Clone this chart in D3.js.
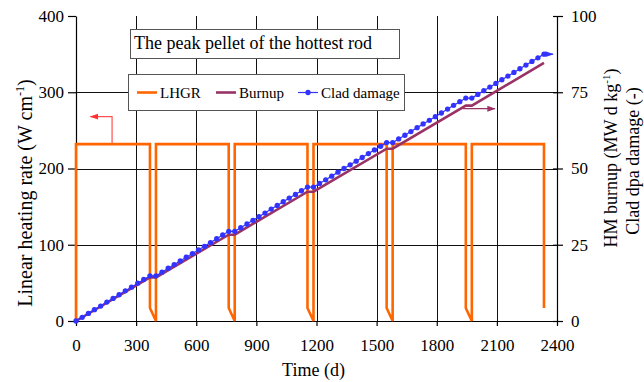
<!DOCTYPE html>
<html>
<head>
<meta charset="utf-8">
<script src="https://cdn.jsdelivr.net/npm/d3@7/dist/d3.min.js"></script>
<style>
  html, body { margin: 0; padding: 0; background: #fff; }
  svg { display: block; font-family: "Liberation Serif", "Times New Roman", serif; }
  svg text { font-family: "Liberation Serif", "Times New Roman", serif; }
</style>
</head>
<body>
<svg id="chart" width="644" height="382"></svg>
<script>
// Time axis ticks (d) and axis ranges
const timeTicks = [0, 300, 600, 900, 1200, 1500, 1800, 2100, 2400];
const lhgrTicks = [0, 100, 200, 300, 400];
const rightTicks = [0, 25, 50, 75, 100];

// Linear heating rate history (W/cm): full power cycles with shutdowns
const lhgrDays = [0, 0, 369, 369, 399, 399, 762, 762, 792, 792, 1155, 1155, 1185, 1185, 1550, 1550, 1580, 1580, 1945, 1945, 1975, 1975, 2335, 2335];
const lhgrValues = [0, 232, 232, 17, 0, 232, 232, 17, 0, 232, 232, 17, 0, 232, 232, 17, 0, 232, 232, 17, 0, 232, 232, 17];

// HM burnup (MW d/kg) at cycle boundaries
const burnupDays = [0, 369, 399, 762, 792, 1155, 1185, 1550, 1580, 1945, 1975, 2335];
const burnupValues = [0, 14.3, 14.3, 28.3, 28.3, 42.4, 42.4, 56.5, 56.5, 70.6, 70.6, 84.6];

// Clad dpa damage at each output step
const cladDays = [
  0, 31, 62, 92, 123, 154, 185, 215, 246, 277, 308, 338, 369,
  399, 429, 460, 490, 520, 550, 581, 611, 641, 671, 702, 732, 762,
  792, 822, 853, 883, 913, 943, 974, 1004, 1034, 1064, 1095, 1125, 1155,
  1185, 1215, 1246, 1276, 1307, 1337, 1368, 1398, 1428, 1459, 1489, 1520, 1550,
  1580, 1610, 1641, 1671, 1702, 1732, 1763, 1793, 1823, 1854, 1884, 1915, 1945,
  1975, 2005, 2035, 2065, 2095, 2125, 2155, 2185, 2215, 2245, 2275, 2305, 2335
];
const cladValues = [
  0, 1.2, 2.5, 3.7, 4.9, 6.2, 7.4, 8.6, 9.9, 11.1, 12.4, 13.6, 14.8,
  14.8, 16.0, 17.3, 18.5, 19.7, 20.9, 22.1, 23.3, 24.5, 25.7, 27.0, 28.2, 29.4,
  29.4, 30.6, 31.8, 33.0, 34.2, 35.4, 36.7, 37.9, 39.1, 40.3, 41.5, 42.7, 43.9,
  43.9, 45.1, 46.3, 47.5, 48.8, 50.0, 51.2, 52.4, 53.6, 54.9, 56.1, 57.3, 58.5,
  58.5, 59.7, 60.9, 62.1, 63.4, 64.6, 65.8, 67.0, 68.2, 69.5, 70.7, 71.9, 73.1,
  73.1, 74.3, 75.5, 76.7, 77.9, 79.1, 80.3, 81.5, 82.7, 83.9, 85.1, 86.3, 87.5
];

const seriesNames = ["LHGR", "Burnup", "Clad damage"];
const colors = { lhgr: "#ff6600", burnup: "#993366", clad: "#3333ff" };
const serif = "Liberation Serif";

const svg = d3.select("#chart");
const m = { left: 76, right: 557, top: 16, bottom: 321 };

const x = d3.scaleLinear().domain([0, 2400]).range([m.left, m.right]);
const yL = d3.scaleLinear().domain([0, 400]).range([m.bottom, m.top]);
const yR = d3.scaleLinear().domain([0, 100]).range([m.bottom, m.top]);

const defs = svg.append("defs");
function arrowMarker(id, color) {
  defs.append("marker")
    .attr("id", id).attr("viewBox", "0 0 10 10")
    .attr("refX", 9).attr("refY", 5)
    .attr("markerWidth", 7).attr("markerHeight", 7)
    .attr("orient", "auto")
    .append("path").attr("d", "M0,1.5 L10,5 L0,8.5 Z").attr("fill", color);
}
arrowMarker("arrRed", "#ff3333");
arrowMarker("arrPurple", colors.burnup);
arrowMarker("arrBlue", colors.clad);

// Grid
const grid = svg.append("g").attr("stroke", "#111").attr("stroke-width", 1);
timeTicks.slice(1, -1).forEach(t => {
  grid.append("line").attr("x1", Math.round(x(t)) + 0.5).attr("x2", Math.round(x(t)) + 0.5)
    .attr("y1", m.top).attr("y2", m.bottom);
});
lhgrTicks.slice(1, -1).forEach(v => {
  grid.append("line").attr("x1", m.left).attr("x2", m.right)
    .attr("y1", Math.round(yL(v)) + 0.5).attr("y2", Math.round(yL(v)) + 0.5);
});

// Axes
const fs = 17;
const fmt = d3.format("d");
const xAxis = svg.append("g").attr("transform", `translate(0,${m.bottom})`)
  .call(d3.axisBottom(x).tickValues(timeTicks).tickFormat(fmt).tickSize(5).tickSizeOuter(0).tickPadding(13));
const yAxisL = svg.append("g").attr("transform", `translate(${m.left},0)`)
  .call(d3.axisLeft(yL).tickValues(lhgrTicks).tickFormat(fmt).tickSize(8).tickSizeOuter(0).tickPadding(4));
const yAxisR = svg.append("g").attr("transform", `translate(${m.right},0)`)
  .call(d3.axisRight(yR).tickValues(rightTicks).tickFormat(fmt).tickSize(6).tickSizeOuter(0).tickPadding(8));
[xAxis, yAxisL, yAxisR].forEach(g => {
  g.attr("font-family", serif).attr("font-size", fs);
  g.selectAll("path").attr("stroke", "#000").attr("stroke-width", 1.2);
  g.selectAll("line").attr("stroke", "#000").attr("stroke-width", 1.2);
  g.selectAll("text").attr("fill", "#000");
});
// Right axis ticks also cross inward slightly
yAxisR.selectAll(".tick line").attr("x1", -4);
xAxis.selectAll(".tick line").attr("y1", 0);

// Series
const lhgrPts = lhgrDays.map((d, i) => [d, lhgrValues[i]]);
const burnPts = burnupDays.map((d, i) => [d, burnupValues[i]]);
const cladPts = cladDays.map((d, i) => [d, cladValues[i]]);

svg.append("path").datum(lhgrPts)
  .attr("fill", "none").attr("stroke", colors.lhgr).attr("stroke-width", 2.6)
  .attr("stroke-linejoin", "miter")
  .attr("d", d3.line().x(d => x(d[0])).y(d => yL(d[1])));

svg.append("path").datum(burnPts)
  .attr("fill", "none").attr("stroke", colors.burnup).attr("stroke-width", 2.6)
  .attr("d", d3.line().x(d => x(d[0])).y(d => yR(d[1])));

svg.append("path").datum(cladPts)
  .attr("fill", "none").attr("stroke", colors.clad).attr("stroke-width", 1.2)
  .attr("d", d3.line().x(d => x(d[0])).y(d => yR(d[1])));
svg.append("g").selectAll("path").data(cladPts).join("path")
  .attr("transform", d => `translate(${x(d[0])},${yR(d[1])})`)
  .attr("d", d3.symbol(d3.symbolCircle, 22))
  .attr("fill", colors.clad);

// Indicator arrows pointing to each series' axis
svg.append("polyline")
  .attr("points", `${x(180)},${yL(232) - 1} ${x(180)},${yL(268)} ${x(72)},${yL(268)}`)
  .attr("fill", "none").attr("stroke", "#ff5050").attr("stroke-width", 1.2)
  .attr("marker-end", "url(#arrRed)");
svg.append("line")
  .attr("x1", x(1930)).attr("y1", yR(69.6)).attr("x2", x(2090)).attr("y2", yR(69.6))
  .attr("stroke", colors.burnup).attr("stroke-width", 1.2).attr("marker-end", "url(#arrPurple)");
svg.append("line")
  .attr("x1", x(2335)).attr("y1", yR(87.5)).attr("x2", x(2380)).attr("y2", yR(87.5))
  .attr("stroke", colors.clad).attr("stroke-width", 1.2).attr("marker-end", "url(#arrBlue)");

// Title box
const tb = svg.append("g");
tb.append("rect").attr("x", 130.5).attr("y", 29.5).attr("width", 269).attr("height", 29)
  .attr("fill", "#fff").attr("stroke", "#555").attr("stroke-width", 1);
tb.append("text").attr("x", 134).attr("y", 49).attr("font-size", 18)
  .text("The peak pellet of the hottest rod");

// Legend
const lg = svg.append("g");
lg.append("rect").attr("x", 128.5).attr("y", 74.5).attr("width", 276).attr("height", 36)
  .attr("fill", "#fff").attr("stroke", "#555").attr("stroke-width", 1);
const legendItems = [
  { name: seriesNames[0], color: colors.lhgr, x0: 137, w: 2.6, marker: false },
  { name: seriesNames[1], color: colors.burnup, x0: 216, w: 2.6, marker: false },
  { name: seriesNames[2], color: colors.clad, x0: 298, w: 1.2, marker: true }
];
legendItems.forEach(it => {
  lg.append("line").attr("x1", it.x0).attr("x2", it.x0 + 20).attr("y1", 92.5).attr("y2", 92.5)
    .attr("stroke", it.color).attr("stroke-width", it.w);
  if (it.marker) {
    lg.append("path").attr("transform", `translate(${it.x0 + 10},92.5)`)
      .attr("d", d3.symbol(d3.symbolCircle, 22)).attr("fill", it.color);
  }
  lg.append("text").attr("x", it.x0 + 23).attr("y", 97.5).attr("font-size", 15).text(it.name);
});

// Axis titles
svg.append("text").attr("x", (m.left + m.right) / 2 - 3).attr("y", 376)
  .attr("text-anchor", "middle").attr("font-size", 18).text("Time (d)");

const lt = svg.append("text").attr("transform", "translate(32,193) rotate(-90)")
  .attr("text-anchor", "middle").attr("font-size", 20);
lt.append("tspan").text("Linear heating rate (W cm");
lt.append("tspan").attr("font-size", 12).attr("dy", -8).text("-1");
lt.append("tspan").attr("dy", 8).text(")");

const rt1 = svg.append("text").attr("transform", "translate(617,158) rotate(-90)")
  .attr("text-anchor", "middle").attr("font-size", 18);
rt1.append("tspan").text("HM burnup (MW d kg");
rt1.append("tspan").attr("font-size", 11).attr("dy", -7).text("-1");
rt1.append("tspan").attr("dy", 7).text(")");

svg.append("text").attr("transform", "translate(639,161) rotate(-90)")
  .attr("text-anchor", "middle").attr("font-size", 18).text("Clad dpa damage (-)");
</script>
</body>
</html>
